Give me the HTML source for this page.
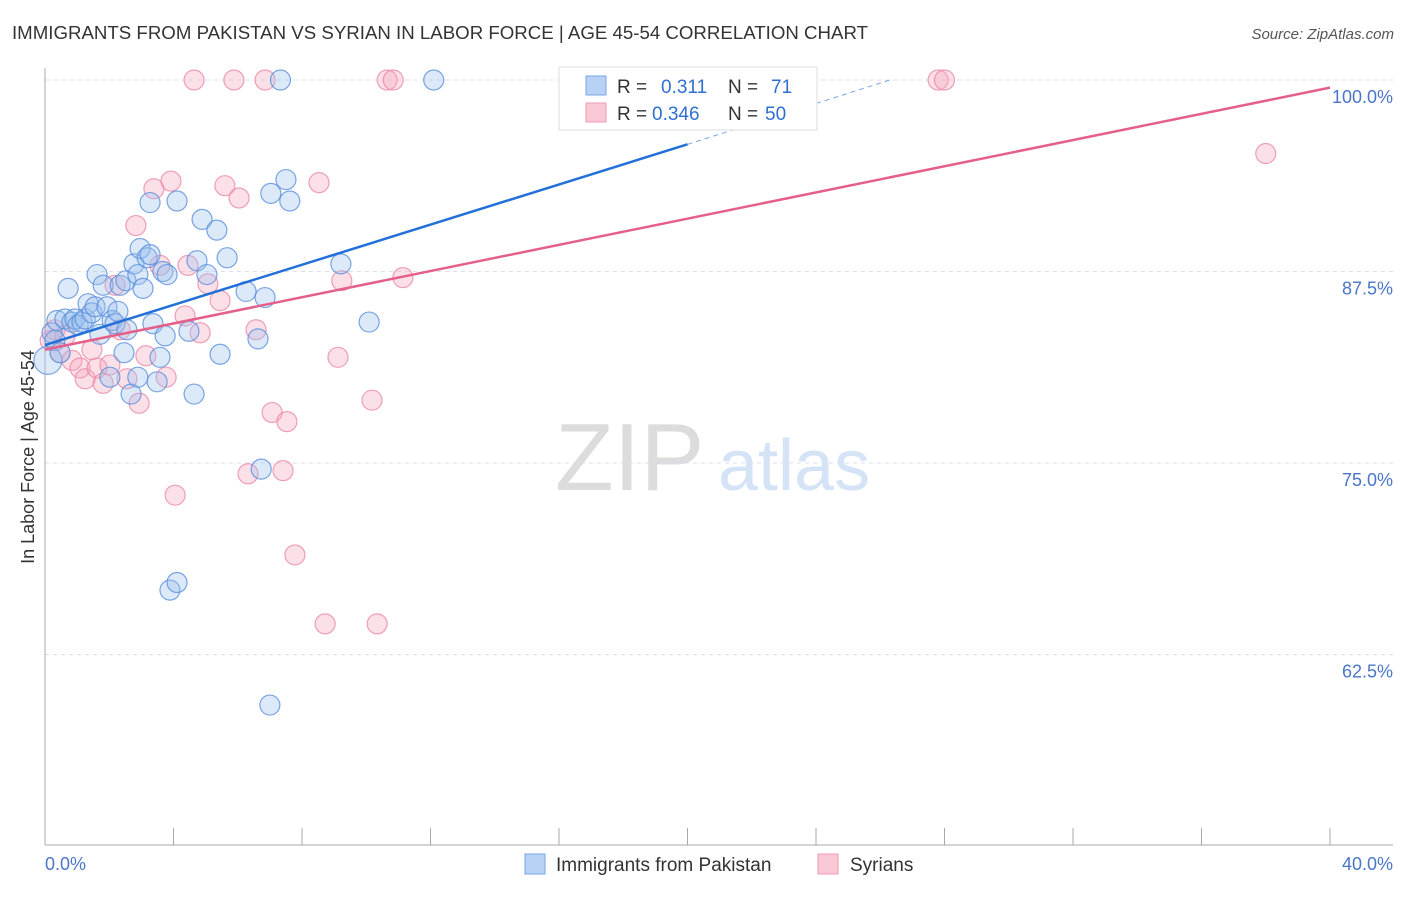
<!DOCTYPE html>
<html><head><meta charset="utf-8"><style>
body{margin:0;background:#fff;font-family:"Liberation Sans",sans-serif;}
svg text{font-family:"Liberation Sans",sans-serif;}
</style></head><body>
<svg id="chart" width="1406" height="892" xmlns="http://www.w3.org/2000/svg">
<text x="12" y="39" font-size="18" fill="#333" textLength="856" lengthAdjust="spacingAndGlyphs">IMMIGRANTS FROM PAKISTAN VS SYRIAN IN LABOR FORCE | AGE 45-54 CORRELATION CHART</text>
<text x="1394" y="39" font-size="15" fill="#555" text-anchor="end" font-style="italic">Source: ZipAtlas.com</text>
<g>
<text x="555" y="490" font-size="96" fill="#dcdcdc" font-family="Liberation Serif,serif">ZIP</text>
<text x="718" y="490" font-size="72" fill="#d4e3f5">atlas</text>
</g>
<g id="grid"></g>
<g id="axes"></g>
<g id="pts"></g>
<g id="trend"></g>
<text transform="translate(34,457) rotate(-90)" font-size="18" fill="#333" text-anchor="middle">In Labor Force | Age 45-54</text>
<text x="45" y="870" font-size="18" fill="#4a76c9">0.0%</text>
<text x="1393" y="870" font-size="18" fill="#4a76c9" text-anchor="end">40.0%</text>
<g>
<rect x="559" y="67" width="258" height="63" fill="#fff" stroke="#ddd"/>
<rect x="586" y="76" width="20" height="19" fill="#b8d2f5" stroke="#7aa6e6"/>
<rect x="586" y="103" width="20" height="19" fill="#f9c9d6" stroke="#ee9ab2"/>
<text x="617" y="93" font-size="19" fill="#333">R =</text>
<text x="661" y="93" font-size="19" fill="#2f6fd1">0.311</text>
<text x="728" y="93" font-size="19" fill="#333">N =</text>
<text x="771" y="93" font-size="19" fill="#2f6fd1">71</text>
<text x="617" y="120" font-size="19" fill="#333">R =</text>
<text x="652" y="120" font-size="19" fill="#2f6fd1">0.346</text>
<text x="728" y="120" font-size="19" fill="#333">N =</text>
<text x="765" y="120" font-size="19" fill="#2f6fd1">50</text>
</g>
<g>
<rect x="525" y="854" width="20" height="20" fill="#b8d2f5" stroke="#7aa6e6"/>
<text x="556" y="871" font-size="19" fill="#333">Immigrants from Pakistan</text>
<rect x="818" y="854" width="20" height="20" fill="#f9c9d6" stroke="#ee9ab2"/>
<text x="850" y="871" font-size="19" fill="#333">Syrians</text>
</g>
</svg>
<script>
const yTicks=[100,87.5,75,62.5];
const yTickLabels=["100.0%","87.5%","75.0%","62.5%"];
const xTicks=[0,4,8,12,16,20,24,28,32,36,40];
const blueX=[7.33,12.1,16.4,0.09,0.22,0.31,0.37,0.47,0.62,0.72,0.84,0.93,1.03,1.15,1.25,1.34,1.46,1.56,1.62,1.71,1.81,1.93,2.09,2.18,2.27,2.34,2.46,2.55,2.52,2.68,2.77,2.89,2.96,3.05,3.18,3.27,3.36,3.49,3.58,3.67,3.74,3.80,3.27,4.11,4.48,4.64,4.73,4.89,5.04,5.35,5.45,5.67,6.26,6.63,6.73,6.85,7.03,7.50,7.62,9.21,10.09,7.00,3.89,4.11,2.02,2.89];
const blueY=[100,100,100,81.7,83.5,83.0,84.3,82.2,84.4,86.4,84.2,84.4,84.0,84.2,84.4,85.4,84.8,85.2,87.3,83.4,86.6,85.2,84.3,84.1,84.9,86.6,82.2,83.7,86.9,79.5,88.0,87.3,89.0,86.4,88.4,88.6,84.1,80.3,81.9,87.5,83.3,87.3,92.0,92.1,83.6,79.5,88.2,90.9,87.3,90.2,82.1,88.4,86.2,83.1,74.6,85.8,92.6,93.5,92.1,88.0,84.2,59.2,66.7,67.2,80.6,80.6];
const pinkX=[4.64,5.88,6.85,10.65,10.84,27.8,28.0,38.0,0.16,0.31,0.47,0.62,0.84,1.09,1.25,1.46,1.62,1.81,2.02,2.18,2.34,2.55,2.83,2.93,3.14,3.39,3.58,3.77,3.92,4.05,4.36,4.45,4.83,5.07,5.45,5.60,6.04,6.32,6.57,7.07,7.41,7.53,7.78,8.53,8.72,9.12,9.24,10.18,10.34,11.14];
const pinkY=[100,100,100,100,100,100,100,95.2,83.0,83.7,82.2,83.3,81.7,81.2,80.5,82.4,81.2,80.2,81.4,86.6,83.7,80.5,90.5,78.9,82.0,92.9,87.9,80.6,93.4,72.9,84.6,87.9,83.5,86.7,85.6,93.1,92.3,74.3,83.7,78.3,74.5,77.7,69.0,93.3,64.5,81.9,86.9,79.1,64.5,87.1];
const blueTrend=[[0,82.7],[20,95.8]];
const blueDash=[[20,95.8],[26.3,100]];
const pinkTrend=[[0,82.4],[40,99.5]];
const NS="http://www.w3.org/2000/svg";
const sx=v=>45+v/40*1285;
const sy=v=>80+(100-v)*15.32;
function mk(t,a,p){const e=document.createElementNS(NS,t);for(const k in a)e.setAttribute(k,a[k]);p.appendChild(e);return e;}
const grid=document.getElementById('grid'),axes=document.getElementById('axes'),pts=document.getElementById('pts'),trend=document.getElementById('trend');
yTicks.forEach((v,i)=>{
 const l=mk('line',{x1:45,x2:1393,y1:sy(v),y2:sy(v),stroke:'#dde',"stroke-dasharray":'4,4'},grid);
 
 
 const t=mk('text',{x:1393,y:sy(v)+23,"font-size":18,fill:'#4a76c9',"text-anchor":'end'},grid);
 t.textContent=yTickLabels[i];
 
 
});
mk('line',{x1:45,x2:45,y1:68,y2:845,stroke:'#aaa'},axes);
mk('line',{x1:45,x2:1393,y1:845,y2:845,stroke:'#aaa'},axes);
xTicks.forEach(v=>{
 const t=mk('line',{x1:sx(v),x2:sx(v),y1:828,y2:845,stroke:'#aaa'},axes);
 
 
});
function dots(X,Y,fill,stroke,name){
 X.forEach((x,i)=>{
  const c=mk('circle',{cx:sx(x),cy:sy(Y[i]),r:i===3&&name==='pakistan-point'?14:10,fill:fill,"fill-opacity":0.35,stroke:stroke,"stroke-width":1.2,"stroke-opacity":0.8},pts);
  
  
 });
}
dots(pinkX,pinkY,'#f4a5bd','#eb88a6','syrian-point');
dots(blueX,blueY,'#9cc0ef','#5a8fdc','pakistan-point');
function ln(p,col,w,dash,name){
 const l=mk('line',{x1:sx(p[0][0]),y1:sy(p[0][1]),x2:sx(p[1][0]),y2:sy(p[1][1]),stroke:col,"stroke-width":w},trend);
 if(dash)l.setAttribute('stroke-dasharray',dash);
 
 
}
ln(pinkTrend,'#e4608a',2.5,null,'syrian-trend-line');
ln(blueTrend,'#2270d8',2.5,null,'pakistan-trend-line');
ln(blueDash,'#7aa6e6',1,'5,4','pakistan-trend-extension');
</script>
</body></html>
